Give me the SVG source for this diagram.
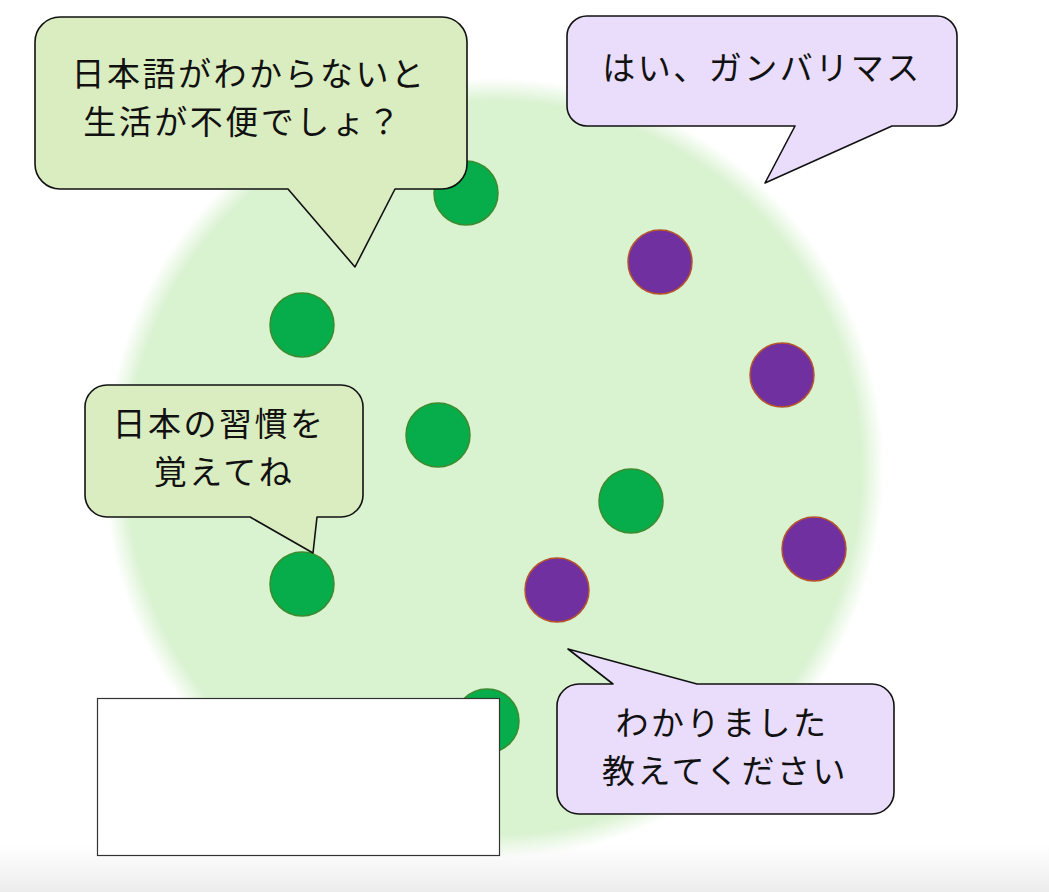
<svg xmlns="http://www.w3.org/2000/svg" width="1049" height="892" viewBox="0 0 1049 892">
  <defs>
    <radialGradient id="bigGlow" cx="0.5" cy="0.5" r="0.5">
      <stop offset="0" stop-color="#D9F2D0"/>
      <stop offset="0.94" stop-color="#D9F2D0"/>
      <stop offset="1" stop-color="#D9F2D0" stop-opacity="0"/>
    </radialGradient>
    <linearGradient id="floor" x1="0" y1="0" x2="0" y2="1">
      <stop offset="0" stop-color="#eeeeee" stop-opacity="0"/>
      <stop offset="1" stop-color="#ececec"/>
    </linearGradient>
    <style>
      .g { fill: #07AD4B; stroke: #3D8B2F; stroke-width: 1.5; }
      .p { fill: #7030A0; stroke: #B5532B; stroke-width: 1.5; }
      .cg { fill: #DAEDC0; stroke: #111; stroke-width: 1.6; stroke-linejoin: round; }
      .cp { fill: #E9DDFB; stroke: #111; stroke-width: 1.6; stroke-linejoin: round; }
      .t { font-family: "Noto Sans CJK JP", "Noto Sans", sans-serif; font-size: 33px; letter-spacing: 2.5px; fill: #111; text-anchor: middle; }
    </style>
  </defs>
  <rect width="1049" height="892" fill="#ffffff"/>
  <rect x="0" y="844" width="1049" height="48" fill="url(#floor)"/>
  <circle id="field" cx="494" cy="468" r="390" fill="url(#bigGlow)"/>

  <g id="green-members">
    <circle id="g1" class="g" cx="466" cy="193" r="32"/>
    <circle id="g2" class="g" cx="302" cy="325" r="32"/>
    <circle id="g3" class="g" cx="438" cy="435" r="32"/>
    <circle id="g4" class="g" cx="631" cy="501" r="32"/>
    <circle id="g5" class="g" cx="302" cy="584" r="32"/>
    <circle id="g6" class="g" cx="487" cy="721" r="32"/>
  </g>
  <g id="purple-members">
    <circle id="p1" class="p" cx="660" cy="262" r="32"/>
    <circle id="p2" class="p" cx="782" cy="375" r="32"/>
    <circle id="p3" class="p" cx="814" cy="549" r="32"/>
    <circle id="p4" class="p" cx="557" cy="590" r="32"/>
  </g>

  <g id="blank-box">
    <rect x="97.5" y="698.5" width="402" height="157" fill="#ffffff" stroke="#333" stroke-width="1.2"/>
  </g>

  <g id="callout1">
    <path class="cg" d="M60,17 H442 A25,25 0 0 1 467,42 V164 A25,25 0 0 1 442,189 H395 L355,267 L288,189 H60 A25,25 0 0 1 35,164 V42 A25,25 0 0 1 60,17 Z"/>
    <text class="t" x="249" y="86">日本語がわからないと</text>
    <text class="t" x="243" y="134">生活が不便でしょ？</text>
  </g>

  <g id="callout2">
    <path class="cp" d="M587,16 H937 A20,20 0 0 1 957,36 V106 A20,20 0 0 1 937,126 H892 L765,183 L795,126 H587 A20,20 0 0 1 567,106 V36 A20,20 0 0 1 587,16 Z"/>
    <text class="t" x="762" y="80">はい、ガンバリマス</text>
  </g>

  <g id="callout3">
    <path class="cg" d="M107,385 H341 A22,22 0 0 1 363,407 V495 A22,22 0 0 1 341,517 H317 L313,553 L250,517 H107 A22,22 0 0 1 85,495 V407 A22,22 0 0 1 107,385 Z"/>
    <text class="t" x="219" y="436">日本の習慣を</text>
    <text class="t" x="224" y="484">覚えてね</text>
  </g>

  <g id="callout4">
    <path class="cp" d="M579,684 H613 L568,649 L697,684 H872 A22,22 0 0 1 894,706 V792 A22,22 0 0 1 872,814 H579 A22,22 0 0 1 557,792 V706 A22,22 0 0 1 579,684 Z"/>
    <text class="t" x="722" y="735">わかりました</text>
    <text class="t" x="725" y="783">教えてください</text>
  </g>
</svg>
